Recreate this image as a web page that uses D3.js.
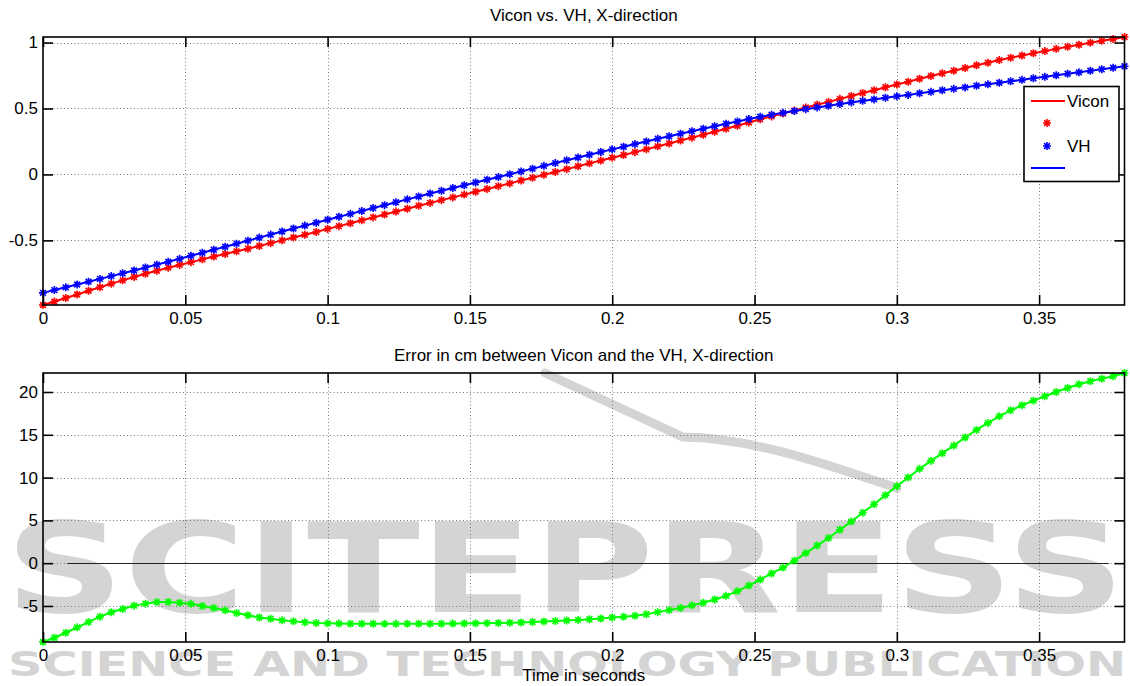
<!DOCTYPE html>
<html>
<head>
<meta charset="utf-8">
<script src="https://cdn.jsdelivr.net/npm/d3@7"></script>
<style>
  html, body { margin: 0; padding: 0; background: #fff; }
  svg { display: block; font-family: "Liberation Sans", Arial, Helvetica, sans-serif; }
</style>
</head>
<body>
<svg id="chart" width="1130" height="686"></svg>
<script>
// Motion capture comparison, sampled at 250 Hz
const sampleRate = 250;

// X position of the marker as measured by Vicon
const vicon = [
  -0.990, -0.964, -0.937, -0.910, -0.882, -0.855, -0.828, -0.803, -0.778, -0.753,
  -0.730, -0.707, -0.686, -0.665, -0.644, -0.623, -0.603, -0.583, -0.563, -0.543,
  -0.521, -0.500, -0.478, -0.457, -0.436, -0.413, -0.392, -0.370, -0.348, -0.326,
  -0.304, -0.282, -0.260, -0.238, -0.216, -0.195, -0.174, -0.153, -0.131, -0.110,
  -0.089, -0.068, -0.046, -0.025, -0.003, 0.018, 0.040, 0.062, 0.084, 0.105,
  0.127, 0.147, 0.169, 0.190, 0.213, 0.235, 0.257, 0.279, 0.301, 0.324,
  0.346, 0.369, 0.394, 0.418, 0.440, 0.462, 0.484, 0.507, 0.529, 0.550,
  0.573, 0.595, 0.617, 0.638, 0.661, 0.682, 0.703, 0.725, 0.746, 0.767,
  0.786, 0.807, 0.828, 0.847, 0.867, 0.885, 0.902, 0.919, 0.935, 0.952,
  0.968, 0.983, 0.999, 1.013, 1.027, 1.042
];

// X position of the same marker as estimated by the VH
const vh = [
  -0.898, -0.877, -0.856, -0.835, -0.813, -0.792, -0.771, -0.749, -0.728, -0.706,
  -0.684, -0.662, -0.640, -0.617, -0.594, -0.571, -0.548, -0.525, -0.502, -0.479,
  -0.456, -0.433, -0.410, -0.388, -0.366, -0.343, -0.321, -0.299, -0.277, -0.255,
  -0.233, -0.211, -0.189, -0.167, -0.145, -0.124, -0.103, -0.082, -0.061, -0.040,
  -0.019, 0.002, 0.023, 0.044, 0.065, 0.086, 0.107, 0.128, 0.149, 0.170,
  0.190, 0.210, 0.230, 0.250, 0.270, 0.290, 0.309, 0.328, 0.347, 0.366,
  0.384, 0.402, 0.420, 0.437, 0.452, 0.467, 0.481, 0.495, 0.508, 0.521,
  0.534, 0.546, 0.558, 0.569, 0.581, 0.592, 0.603, 0.615, 0.626, 0.638,
  0.649, 0.660, 0.672, 0.683, 0.695, 0.706, 0.717, 0.729, 0.740, 0.752,
  0.763, 0.774, 0.786, 0.797, 0.809, 0.820
];

// Difference Vicon - VH, in centimetres
const errorCm = [
  -9.21, -8.71, -8.13, -7.50, -6.88, -6.25, -5.74, -5.35, -4.96, -4.73,
  -4.55, -4.53, -4.62, -4.75, -5.00, -5.23, -5.51, -5.82, -6.09, -6.35,
  -6.50, -6.68, -6.80, -6.91, -6.99, -7.03, -7.06, -7.07, -7.08, -7.08,
  -7.09, -7.09, -7.08, -7.08, -7.07, -7.07, -7.06, -7.05, -7.03, -7.01,
  -6.99, -6.96, -6.93, -6.88, -6.82, -6.76, -6.70, -6.63, -6.55, -6.46,
  -6.35, -6.26, -6.14, -5.96, -5.72, -5.48, -5.23, -4.93, -4.62, -4.25,
  -3.82, -3.26, -2.62, -1.92, -1.20, -0.52, 0.30, 1.18, 2.06, 2.94,
  3.90, 4.86, 5.90, 6.88, 7.95, 9.00, 10.01, 11.02, 11.95, 12.85,
  13.74, 14.68, 15.57, 16.39, 17.16, 17.86, 18.45, 18.99, 19.50, 20.00,
  20.47, 20.90, 21.26, 21.56, 21.84, 22.22
];

const xTicks = [0, 0.05, 0.1, 0.15, 0.2, 0.25, 0.3, 0.35];
const xTickLabels = ["0", "0.05", "0.1", "0.15", "0.2", "0.25", "0.3", "0.35"];
const posTicks = [-0.5, 0, 0.5, 1];
const posTickLabels = ["-0.5", "0", "0.5", "1"];
const errTicks = [-5, 0, 5, 10, 15, 20];
const errTickLabels = ["-5", "0", "5", "10", "15", "20"];
const legendLabels = ["Vicon", "", "VH", ""];
const zeroLineSpan = [0.0085, 0.3745];

const topTitle = "Vicon vs. VH, X-direction";
const bottomTitle = "Error in cm between Vicon and the VH, X-direction";
const xLabel = "Time in seconds";

const time = vicon.map((_, i) => i / sampleRate);

const svg = d3.select("#chart");
const FONT = 17;

// ---- publisher watermark (drawn underneath the plots) ----
const wm = svg.append("g").attr("fill", "#d4d4d4").attr("stroke", "none");
wm.append("path")
  .attr("d", "M545,373 L683,437 C760,438 840,470 897,488")
  .attr("fill", "none").attr("stroke", "#d4d4d4").attr("stroke-width", 9)
  .attr("stroke-linecap", "round");
wm.append("text")
  .attr("x", 5).attr("y", 612)
  .attr("textLength", 1120).attr("lengthAdjust", "spacingAndGlyphs")
  .style("font-family", "'DejaVu Sans', sans-serif").style("font-weight", "bold")
  .style("font-size", "124px")
  .text("SCITEPRESS");
wm.append("text")
  .attr("x", 8).attr("y", 676)
  .attr("textLength", 1118).attr("lengthAdjust", "spacingAndGlyphs")
  .style("font-family", "'DejaVu Sans', sans-serif").style("font-weight", "bold")
  .style("font-size", "34px")
  .text("SCIENCE AND TECHNOLOGY PUBLICATION");

// ---- shared horizontal scale ----
const left = 43, right = 1124.5;
const x = d3.scaleLinear().domain([0, d3.max(time)]).range([left, right]);

// asterisk-style marker, like MATLAB '*'
function asterisk(r) {
  const d = r * 0.72;
  return `M${-r},0L${r},0M0,${-r}L0,${r}M${-d},${-d}L${d},${d}M${-d},${d}L${d},${-d}`;
}

function panel(opts) {
  const { top, bottom, yDomain, yTicks, yLabels, series, title } = opts;
  const y = d3.scaleLinear().domain(yDomain).range([bottom, top]);
  const g = svg.append("g");

  // dotted grid
  const grid = g.append("g").attr("stroke", "#7a7a7a").attr("stroke-width", 1)
    .attr("stroke-dasharray", "1,2.5");
  grid.selectAll("line.v").data(xTicks.slice(1)).join("line")
    .attr("x1", d => Math.round(x(d)) + 0.5).attr("x2", d => Math.round(x(d)) + 0.5)
    .attr("y1", top).attr("y2", bottom);
  grid.selectAll("line.h").data(yTicks).join("line")
    .attr("x1", left).attr("x2", right)
    .attr("y1", d => Math.round(y(d)) + 0.5).attr("y2", d => Math.round(y(d)) + 0.5);

  if (opts.zeroLine) {
    g.append("line")
      .attr("x1", x(zeroLineSpan[0])).attr("x2", x(zeroLineSpan[1]))
      .attr("y1", Math.round(y(0)) + 0.5).attr("y2", Math.round(y(0)) + 0.5)
      .attr("stroke", "#222").attr("stroke-width", 1);
  }

  // data
  const line = d3.line().x((d, i) => x(time[i])).y(d => y(d));
  series.forEach(s => {
    const sg = g.append("g");
    if (s.lineFirst) {
      sg.append("path").attr("d", line(s.values)).attr("fill", "none")
        .attr("stroke", s.color).attr("stroke-width", 2);
    }
    sg.selectAll("path.m").data(s.values).join("path")
      .attr("class", "m")
      .attr("transform", (d, i) => `translate(${x(time[i])},${y(d)})`)
      .attr("d", asterisk(4))
      .attr("stroke", s.color).attr("stroke-width", 1.6).attr("fill", "none");
    if (!s.lineFirst) {
      sg.append("path").attr("d", line(s.values)).attr("fill", "none")
        .attr("stroke", s.color).attr("stroke-width", 2);
    }
  });

  // axes with inward ticks on all four sides
  const styleAxis = a => {
    a.select(".domain").remove();
    a.selectAll(".tick line").attr("stroke", "#000").attr("stroke-width", 1.6);
    a.selectAll("text").attr("fill", "#000")
      .style("font-size", FONT + "px")
      .style("font-family", "'Liberation Sans', Arial, sans-serif");
  };
  g.append("g").attr("transform", `translate(0,${bottom})`)
    .call(d3.axisBottom(x).tickValues(xTicks).tickFormat((d, i) => xTickLabels[i])
      .tickSize(-10).tickPadding(7))
    .call(styleAxis);
  g.append("g").attr("transform", `translate(0,${top})`)
    .call(d3.axisTop(x).tickValues(xTicks).tickFormat("").tickSize(-10))
    .call(styleAxis);
  g.append("g").attr("transform", `translate(${left},0)`)
    .call(d3.axisLeft(y).tickValues(yTicks).tickFormat((d, i) => yLabels[i])
      .tickSize(-10).tickPadding(5))
    .call(styleAxis);
  g.append("g").attr("transform", `translate(${right},0)`)
    .call(d3.axisRight(y).tickValues(yTicks).tickFormat("").tickSize(-10))
    .call(styleAxis);

  // box
  g.append("rect").attr("x", left).attr("y", top)
    .attr("width", right - left).attr("height", bottom - top)
    .attr("fill", "none").attr("stroke", "#000").attr("stroke-width", 1.6);

  // title
  svg.append("text").attr("x", (left + right) / 2).attr("y", opts.titleY)
    .attr("text-anchor", "middle").style("font-size", FONT + "px").text(title);

  return { g, y };
}

// ---- top panel: positions ----
const posExtent = d3.extent(vicon.concat(vh));
panel({
  top: 37, bottom: 305, yDomain: posExtent, yTicks: posTicks, yLabels: posTickLabels,
  series: [
    { values: vicon, color: "#ff0000", lineFirst: true },
    { values: vh, color: "#0000ff", lineFirst: false }
  ],
  title: topTitle, titleY: 21
});

// legend
const lg = svg.append("g");
lg.append("rect").attr("x", 1024).attr("y", 86.5).attr("width", 95).attr("height", 95)
  .attr("fill", "#fff").attr("stroke", "#000").attr("stroke-width", 1.6);
const legendRows = [
  { kind: "line", color: "#ff0000", y: 101 },
  { kind: "marker", color: "#ff0000", y: 123 },
  { kind: "marker", color: "#0000ff", y: 146 },
  { kind: "line", color: "#0000ff", y: 168 }
];
legendRows.forEach((r, i) => {
  if (r.kind === "line") {
    lg.append("line").attr("x1", 1031).attr("x2", 1065).attr("y1", r.y).attr("y2", r.y)
      .attr("stroke", r.color).attr("stroke-width", 2);
  } else {
    lg.append("path").attr("transform", `translate(1047,${r.y})`).attr("d", asterisk(4))
      .attr("stroke", r.color).attr("stroke-width", 1.6).attr("fill", "none");
  }
  if (legendLabels[i]) {
    lg.append("text").attr("x", 1067).attr("y", r.y + 6)
      .style("font-size", FONT + "px").text(legendLabels[i]);
  }
});

// ---- bottom panel: error ----
const errExtent = d3.extent(errorCm);
panel({
  top: 373, bottom: 642, yDomain: errExtent, yTicks: errTicks, yLabels: errTickLabels,
  series: [{ values: errorCm, color: "#00ff00", lineFirst: true }],
  title: bottomTitle, titleY: 361, zeroLine: true
});

svg.append("text").attr("x", (left + right) / 2).attr("y", 681)
  .attr("text-anchor", "middle").style("font-size", FONT + "px").text(xLabel);
</script>
</body>
</html>
